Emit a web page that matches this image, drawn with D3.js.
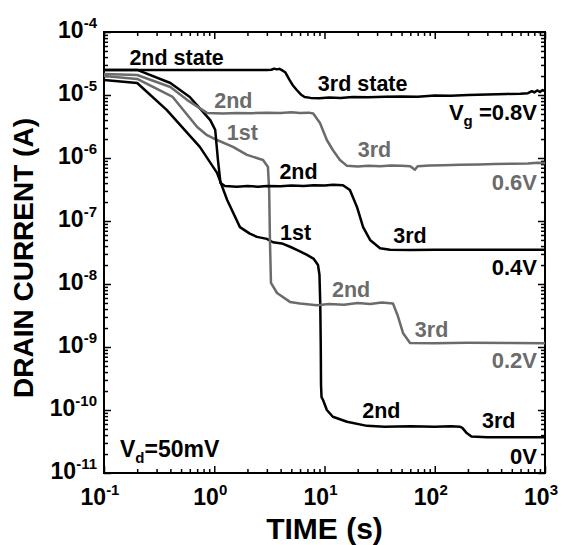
<!DOCTYPE html>
<html>
<head>
<meta charset="utf-8">
<script src="https://cdn.jsdelivr.net/npm/d3@7"></script>
<style>
  body { margin: 0; background: #fff; }
  svg { display: block; font-family: "Liberation Sans", Arial, Helvetica, sans-serif; font-weight: bold; }
</style>
</head>
<body>
<svg id="chart" width="564" height="545"></svg>
<script>
// time (s), drain current (A)
var vg08 = [[0.1,2.5e-5],[0.15,2.5e-5],[0.2,2.5e-5],[0.5,2.49e-5],[1,2.5e-5],[2,2.49e-5],[3,2.5e-5],[3.3,2.52e-5],[3.5,2.62e-5],[3.7,2.55e-5],[3.9,2.6e-5],[4.1,2.48e-5],[4.4,2.3e-5],[4.8,1.75e-5],[5.2,1.4e-5],[5.6,1.2e-5],[6.1,1.02e-5],[6.6,9.3e-6],[7.5,9.0e-6],[9,8.9e-6],[11,9.1e-6],[14,9.0e-6],[18,9.3e-6],[25,9.2e-6],[35,9.4e-6],[50,9.5e-6],[70,9.4e-6],[100,9.8e-6],[140,9.7e-6],[200,1.0e-5],[300,1.02e-5],[450,1.04e-5],[600,1.05e-5],[700,1.07e-5],[760,1.15e-5],[800,1.1e-5],[850,1.18e-5],[900,1.12e-5],[950,1.2e-5],[1000,1.15e-5]];
var vg06 = [[0.1,2.15e-5],[0.2,2.08e-5],[0.4,1.34e-5],[0.57,8.3e-6],[0.86,5.2e-6],[1.2,5.1e-6],[1.6,5.2e-6],[2.2,5.15e-6],[3,5.25e-6],[4,5.2e-6],[5,5.3e-6],[6,5.2e-6],[7.2,5.25e-6],[7.9,5.1e-6],[9.1,3.6e-6],[10.5,1.93e-6],[11.9,1.34e-6],[13.8,9.3e-7],[16,7.5e-7],[20,7.3e-7],[25,7.5e-7],[32,7.4e-7],[40,7.6e-7],[50,7.5e-7],[60,7.4e-7],[66,6.5e-7],[70,7.4e-7],[90,7.6e-7],[120,7.7e-7],[170,7.8e-7],[250,7.9e-7],[350,8.0e-7],[500,8.1e-7],[700,8.2e-7],[850,8.4e-7],[1000,8.3e-7]];
var vg04 = [[0.1,2.5e-5],[0.2,2.5e-5],[0.4,1.55e-5],[0.6,9.3e-6],[0.92,4.0e-6],[1.02,2.8e-6],[1.08,9.3e-7],[1.14,4.0e-7],[1.25,3.6e-7],[1.6,3.5e-7],[2,3.6e-7],[2.5,3.5e-7],[3,3.6e-7],[4,3.55e-7],[5,3.65e-7],[6.5,3.6e-7],[8,3.7e-7],[10,3.65e-7],[12,3.75e-7],[14.7,3.7e-7],[17,3.1e-7],[19.7,1.67e-7],[22.4,8.0e-8],[25.9,5.0e-8],[31.9,3.7e-8],[39.3,3.5e-8],[60,3.45e-8],[100,3.5e-8],[200,3.5e-8],[400,3.5e-8],[1000,3.5e-8]];
var vg02 = [[0.1,2.0e-5],[0.2,1.8e-5],[0.42,9.3e-6],[0.7,3.1e-6],[0.86,2.3e-6],[1.06,1.93e-6],[1.48,1.5e-6],[1.98,1.12e-6],[2.77,9.3e-7],[3.07,7.2e-7],[3.15,3e-7],[3.2,5e-8],[3.27,1.04e-8],[3.71,7.2e-9],[4.86,5.2e-9],[6,4.9e-9],[8.55,4.6e-9],[11,4.8e-9],[15,4.7e-9],[20,5.0e-9],[26,4.8e-9],[33,5.1e-9],[41.8,4.9e-9],[46,3.2e-9],[51.5,1.67e-9],[59.7,1.16e-9],[100,1.15e-9],[200,1.17e-9],[500,1.16e-9],[1000,1.15e-9]];
var vg0 = [[0.1,1.73e-5],[0.2,1.55e-5],[0.37,5.8e-6],[0.74,1.5e-6],[1.06,5.8e-7],[1.31,2.15e-7],[1.71,8e-8],[2.1,6.3e-8],[2.44,5.6e-8],[3.0,5.2e-8],[3.41,4.6e-8],[4.1,4.4e-8],[4.87,3.9e-8],[5.8,3.4e-8],[6.94,2.9e-8],[8.0,2.5e-8],[8.73,2.0e-8],[9.0,1.4e-8],[9.15,5e-9],[9.25,1e-9],[9.3,2.5e-10],[9.4,1.6e-10],[9.7,1.44e-10],[10.5,1e-10],[11.9,7.8e-11],[16,6.5e-11],[24.3,5.6e-11],[35,5.4e-11],[60,5.5e-11],[100,5.4e-11],[140,5.5e-11],[170,5.4e-11],[178,5.2e-11],[195,4.3e-11],[215,3.8e-11],[300,3.7e-11],[600,3.7e-11],[1000,3.7e-11]];

var xTickExp = [-1, 0, 1, 2, 3];
var yTickExp = [-4, -5, -6, -7, -8, -9, -10, -11];

// [text, t, I, colour]
var stateLabels = [
  ["2nd state", 0.17, 3.0e-5, "k"],
  ["3rd state", 8.7, 1.16e-5, "k"],
  ["2nd", 1.0, 6.2e-6, "g"],
  ["1st", 1.3, 1.95e-6, "g"],
  ["3rd", 20, 1.03e-6, "g"],
  ["2nd", 3.9, 4.7e-7, "k"],
  ["1st", 3.95, 5.0e-8, "k"],
  ["3rd", 42, 4.5e-8, "k"],
  ["2nd", 11.7, 6.2e-9, "g"],
  ["3rd", 66, 1.44e-9, "g"],
  ["2nd", 22, 7.4e-11, "k"],
  ["3rd", 268, 5.2e-11, "k"]
];
var voltLabels = ["0.8V", "0.6V", "0.4V", "0.2V", "0V"];

var black = "#000", grey = "#6b6b6b";

var svg = d3.select("#chart");
var mLeft = 104, mRight = 545, mTop = 32, mBottom = 473;

var x = d3.scaleLog().domain([0.1, 1000]).range([mLeft, mRight]);
var y = d3.scaleLog().domain([1e-11, 1e-4]).range([mBottom, mTop]);

// minor ticks
var xMinor = [], yMinor = [];
xTickExp.slice(0, -1).forEach(function (e) {
  for (var k = 2; k < 10; k++) xMinor.push(k * Math.pow(10, e));
});
yTickExp.slice(1).forEach(function (e) {
  for (var k = 2; k < 10; k++) yMinor.push(k * Math.pow(10, e));
});
var xMajor = xTickExp.map(function (e) { return Math.pow(10, e); });
var yMajor = yTickExp.map(function (e) { return Math.pow(10, e); });

function axisG(axis, tr) {
  var g = svg.append("g").attr("transform", tr).call(axis);
  g.select(".domain").remove();
  g.selectAll("line").attr("stroke", "#000").attr("stroke-width", 1.5);
  return g;
}
axisG(d3.axisBottom(x).tickValues(xMinor).tickSize(-4).tickFormat(""), "translate(0," + mBottom + ")");
axisG(d3.axisBottom(x).tickValues(xMajor).tickSize(-7).tickFormat(""), "translate(0," + mBottom + ")");
axisG(d3.axisTop(x).tickValues(xMinor).tickSize(-4).tickFormat(""), "translate(0," + mTop + ")");
axisG(d3.axisTop(x).tickValues(xMajor).tickSize(-7).tickFormat(""), "translate(0," + mTop + ")");
axisG(d3.axisLeft(y).tickValues(yMinor).tickSize(-4).tickFormat(""), "translate(" + mLeft + ",0)");
axisG(d3.axisLeft(y).tickValues(yMajor).tickSize(-7).tickFormat(""), "translate(" + mLeft + ",0)");
axisG(d3.axisRight(y).tickValues(yMinor).tickSize(-4).tickFormat(""), "translate(" + mRight + ",0)");
axisG(d3.axisRight(y).tickValues(yMajor).tickSize(-7).tickFormat(""), "translate(" + mRight + ",0)");

svg.append("rect")
  .attr("x", mLeft).attr("y", mTop)
  .attr("width", mRight - mLeft).attr("height", mBottom - mTop)
  .attr("fill", "none").attr("stroke", "#000").attr("stroke-width", 2);

// tick labels
svg.selectAll(".xlab").data(xTickExp).enter().append("text")
  .attr("class", "xlab")
  .attr("x", function (d) { return x(Math.pow(10, d)) - 4; })
  .attr("y", 505)
  .attr("text-anchor", "middle")
  .attr("font-size", 23)
  .each(function (d) {
    var t = d3.select(this);
    t.append("tspan").text("10");
    t.append("tspan").attr("dy", -10).attr("font-size", 15).text(d);
  });

svg.selectAll(".ylab").data(yTickExp).enter().append("text")
  .attr("class", "ylab")
  .attr("x", 97)
  .attr("y", function (d) { return y(Math.pow(10, d)) + 6; })
  .attr("text-anchor", "end")
  .attr("font-size", 23)
  .each(function (d) {
    var t = d3.select(this);
    t.append("tspan").text("10");
    t.append("tspan").attr("dy", -10).attr("font-size", 15).text(d);
  });

// axis titles
svg.append("text")
  .attr("x", (mLeft + mRight) / 2).attr("y", 539)
  .attr("text-anchor", "middle").attr("font-size", 30)
  .text("TIME (s)");
svg.append("text")
  .attr("transform", "translate(33,258) rotate(-90)")
  .attr("text-anchor", "middle").attr("font-size", 28)
  .text("DRAIN CURRENT (A)");

// curves
var line = d3.line()
  .x(function (d) { return x(d[0]); })
  .y(function (d) { return y(d[1]); });

var series = [
  { data: vg0, color: black },
  { data: vg02, color: grey },
  { data: vg04, color: black },
  { data: vg06, color: grey },
  { data: vg08, color: black }
];
svg.selectAll(".curve").data(series).enter().append("path")
  .attr("class", "curve")
  .attr("d", function (d) { return line(d.data); })
  .attr("fill", "none")
  .attr("stroke", function (d) { return d.color; })
  .attr("stroke-width", 2.5)
  .attr("stroke-linejoin", "round");

// state labels
svg.selectAll(".slab").data(stateLabels).enter().append("text")
  .attr("class", "slab")
  .attr("x", function (d) { return x(d[1]); })
  .attr("y", function (d) { return y(d[2]); })
  .attr("font-size", 21.5)
  .attr("fill", function (d) { return d[3] === "g" ? grey : black; })
  .text(function (d) { return d[0]; });

// gate voltage labels
var vg = svg.append("text").attr("x", 537).attr("y", 120)
  .attr("text-anchor", "end").attr("font-size", 22).attr("fill", black);
vg.append("tspan").text("V");
vg.append("tspan").attr("dy", 6).attr("font-size", 15).text("g");
vg.append("tspan").attr("dy", -6).text(" =" + voltLabels[0]);

var vPos = [[voltLabels[1], 190, grey], [voltLabels[2], 275, black], [voltLabels[3], 368, grey], [voltLabels[4], 464, black]];
svg.selectAll(".vlab").data(vPos).enter().append("text")
  .attr("class", "vlab")
  .attr("x", 537).attr("y", function (d) { return d[1]; })
  .attr("text-anchor", "end").attr("font-size", 22)
  .attr("fill", function (d) { return d[2]; })
  .text(function (d) { return d[0]; });

var vd = svg.append("text").attr("x", 120).attr("y", 457)
  .attr("font-size", 23).attr("fill", black);
vd.append("tspan").text("V");
vd.append("tspan").attr("dy", 6).attr("font-size", 15).text("d");
vd.append("tspan").attr("dy", -6).text("=50mV");
</script>
</body>
</html>
